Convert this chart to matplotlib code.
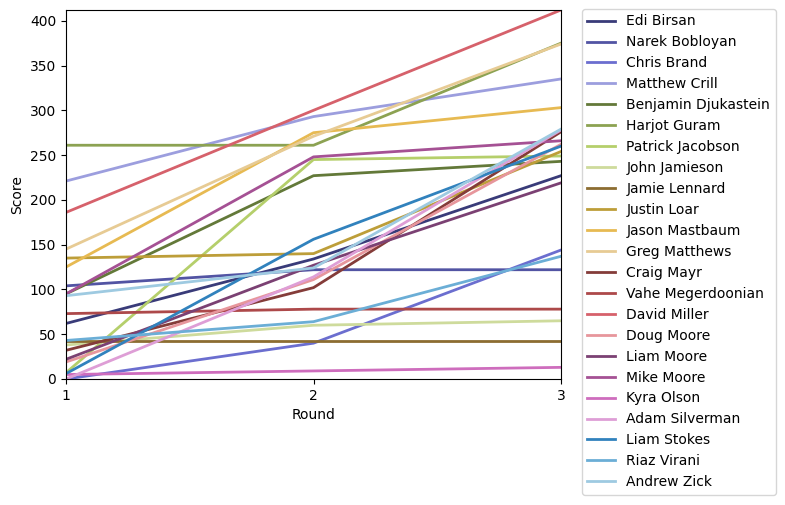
import matplotlib
matplotlib.use('Agg')
import matplotlib.pyplot as plt

ROUNDS = [1, 2, 3]

PLAYERS = [
    'Edi Birsan', 'Narek Bobloyan', 'Chris Brand', 'Matthew Crill',
    'Benjamin Djukastein', 'Harjot Guram', 'Patrick Jacobson',
    'John Jamieson', 'Jamie Lennard', 'Justin Loar', 'Jason Mastbaum',
    'Greg Matthews', 'Craig Mayr', 'Vahe Megerdoonian', 'David Miller',
    'Doug Moore', 'Liam Moore', 'Mike Moore', 'Kyra Olson',
    'Adam Silverman', 'Liam Stokes', 'Riaz Virani', 'Andrew Zick',
]

# cumulative score after each round
edi_birsan = [62, 134, 227]
narek_bobloyan = [104, 122, 122]
chris_brand = [0, 40, 144]
matthew_crill = [221, 293, 335]
benjamin_djukastein = [95, 227, 243]
harjot_guram = [261, 261, 375]
patrick_jacobson = [7, 245, 249]
john_jamieson = [38, 60, 65]
jamie_lennard = [42, 42, 42]
justin_loar = [135, 140, 254]
jason_mastbaum = [125, 275, 303]
greg_matthews = [145, 271, 374]
craig_mayr = [32, 102, 276]
vahe_megerdoonian = [73, 78, 78]
david_miller = [186, 300, 412]
doug_moore = [19, 111, 262]
liam_moore = [22, 127, 219]
mike_moore = [95, 248, 266]
kyra_olson = [5, 9, 13]
adam_silverman = [0, 114, 278]
liam_stokes = [6, 156, 260]
riaz_virani = [43, 64, 137]
andrew_zick = [93, 124, 279]

SCORES = [
    edi_birsan, narek_bobloyan, chris_brand, matthew_crill,
    benjamin_djukastein, harjot_guram, patrick_jacobson,
    john_jamieson, jamie_lennard, justin_loar, jason_mastbaum,
    greg_matthews, craig_mayr, vahe_megerdoonian, david_miller,
    doug_moore, liam_moore, mike_moore, kyra_olson,
    adam_silverman, liam_stokes, riaz_virani, andrew_zick,
]


def main() -> None:
    colors = (list(plt.get_cmap('tab20b').colors)
              + list(plt.get_cmap('tab20c').colors[:3]))

    fig = plt.figure(figsize=(7.85, 5.05), dpi=100)
    ax = fig.add_axes([66 / 785, 1 - 379 / 505,
                       (561 - 66) / 785, (379 - 10) / 505])
    for name, vals, col in zip(PLAYERS, SCORES, colors):
        ax.plot(ROUNDS, vals, color=col, linewidth=2, label=name)

    ax.set_xlim(1, 3)
    ax.set_ylim(0, max(max(s) for s in SCORES))
    ax.set_xticks(ROUNDS)
    ax.set_xlabel('Round')
    ax.set_ylabel('Score')
    ax.legend(loc='upper left', bbox_to_anchor=(1.042, 1.003),
              borderaxespad=0)
    fig.savefig('out.png', dpi=100)


if __name__ == '__main__':
    main()
